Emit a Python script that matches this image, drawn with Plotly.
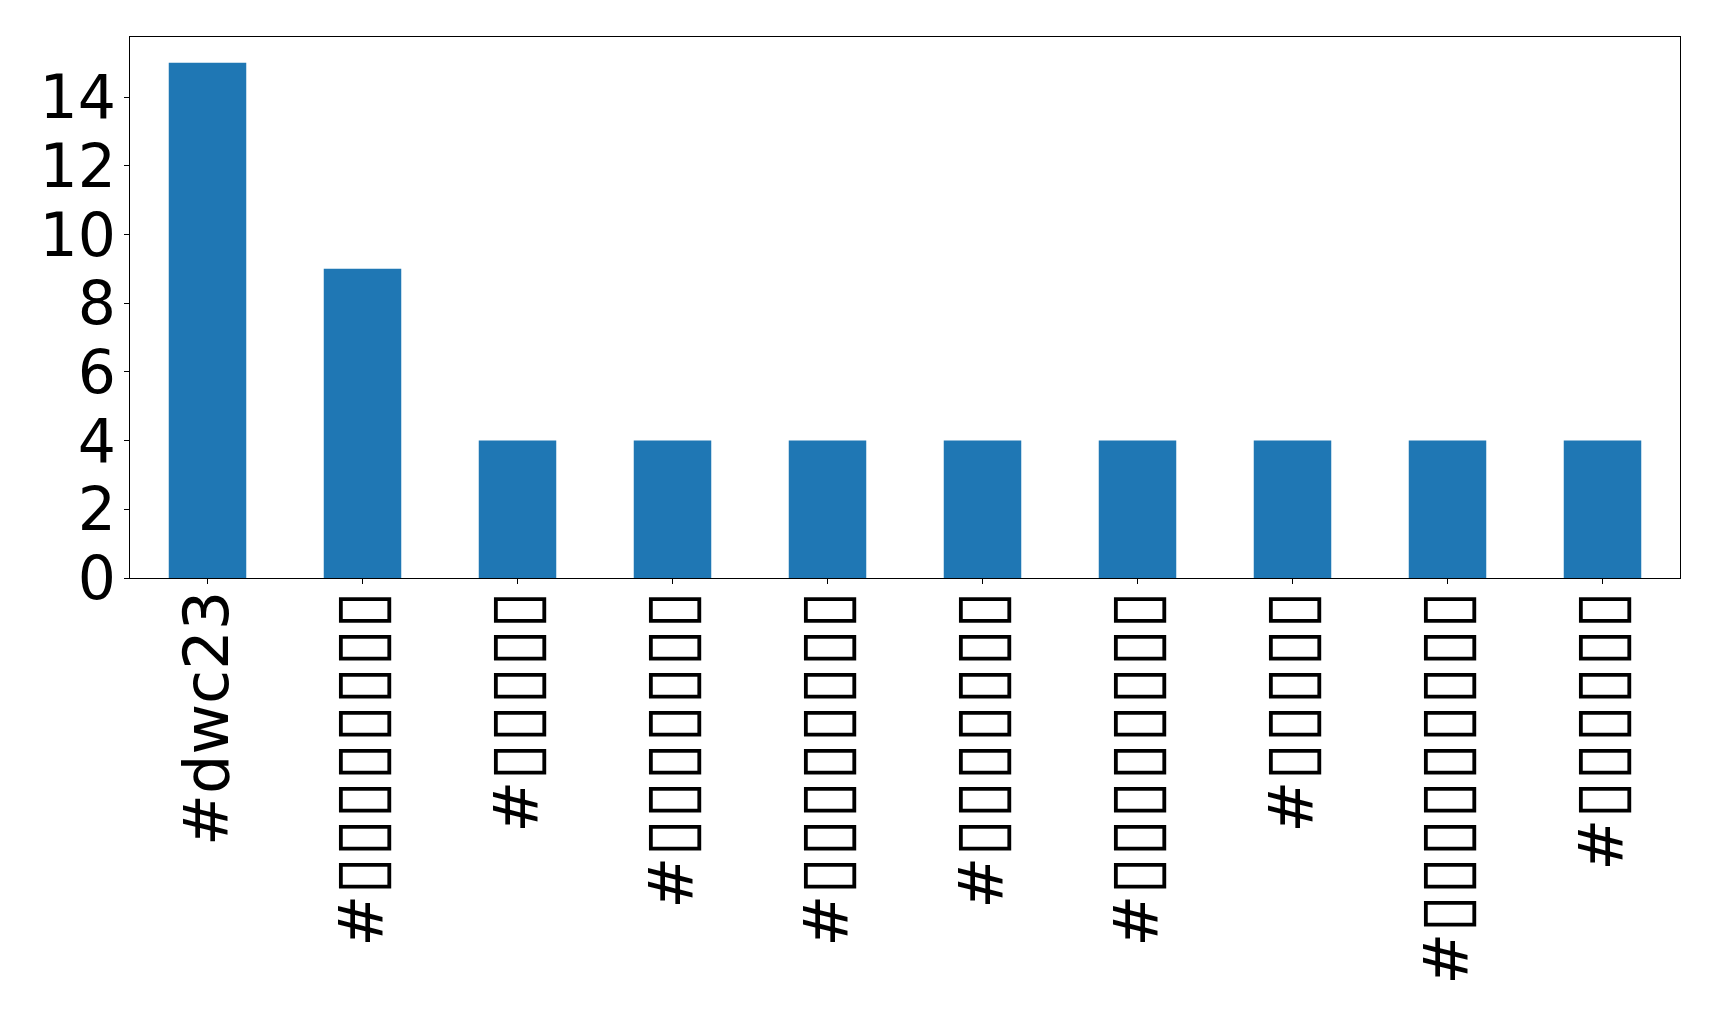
import plotly.graph_objects as go

categories = [
    "#dwc23",
    "#▯▯▯▯▯▯▯▯",
    "#▯▯▯▯▯",
    "#▯▯▯▯▯▯▯",
    "#▯▯▯▯▯▯▯▯",
    "#▯▯▯▯▯▯▯",
    "#▯▯▯▯▯▯▯▯",
    "#▯▯▯▯▯",
    "#▯▯▯▯▯▯▯▯▯",
    "#▯▯▯▯▯▯",
]
counts = [15, 9, 4, 4, 4, 4, 4, 4, 4, 4]
y_ticks = [0, 2, 4, 6, 8, 10, 12, 14]


def styled(label):
    # enlarge the box glyphs a little so they resemble the reference's missing-glyph boxes
    out = ""
    for ch in label:
        if ch == "▯":
            out += '<span style="font-size:69px">' + ch + "</span>"
        else:
            out += ch
    return out


fig = go.Figure(
    go.Bar(
        x=list(range(len(categories))),
        y=counts,
        width=0.5,
        marker=dict(color="#1f77b4", line=dict(width=0)),
    )
)

yfont = dict(family="DejaVu Sans", size=60, color="black")
xfont = dict(family="DejaVu Sans", size=62, color="black")

fig.update_layout(
    width=1711,
    height=1010,
    autosize=False,
    margin=dict(l=122, r=39, t=29, b=440),
    paper_bgcolor="white",
    plot_bgcolor="white",
    showlegend=False,
    font=yfont,
)
fig.update_xaxes(
    range=[-0.5, len(categories) - 0.5],
    tickmode="array",
    tickvals=list(range(len(categories))),
    ticktext=[styled(c) for c in categories],
    tickangle=-90,
    ticks="outside",
    ticklen=5,
    tickwidth=1,
    tickcolor="black",
    ticklabelstandoff=-18,
    showline=True,
    linecolor="black",
    linewidth=1.2,
    mirror=True,
    showgrid=False,
    zeroline=False,
    tickfont=xfont,
)
fig.update_yaxes(
    range=[0, 15.75],
    tickmode="array",
    tickvals=y_ticks,
    ticktext=[str(v) for v in y_ticks],
    ticks="outside",
    ticklen=5,
    tickwidth=1,
    tickcolor="black",
    ticklabelstandoff=-4,
    showline=True,
    linecolor="black",
    linewidth=1.2,
    mirror=True,
    showgrid=False,
    zeroline=False,
    tickfont=yfont,
)

fig.write_html("out.html")
